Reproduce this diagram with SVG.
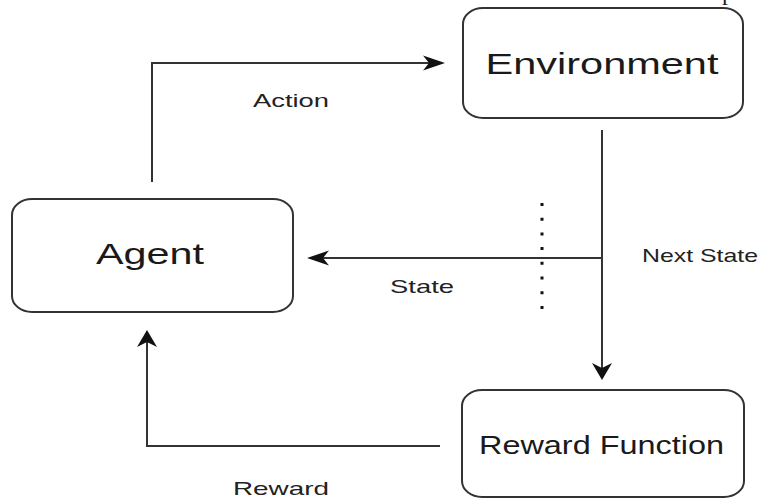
<svg xmlns="http://www.w3.org/2000/svg" width="773" height="500" viewBox="0 0 773 500">
<style>
.box{fill:#fff;stroke:#333;stroke-width:2}
.t{font-family:"Liberation Sans",Arial,sans-serif;fill:#1a1a1a;text-anchor:middle}
.big{font-size:29px}
.lbl{font-size:19px;fill:#222}
.c{fill:none;stroke:#333;stroke-width:2}
.dot{fill:none;stroke:#111;stroke-width:3;stroke-dasharray:3 11.7}
</style>
<defs>
<marker id="ah" markerUnits="userSpaceOnUse" viewBox="0 -10 22 20" markerWidth="22" markerHeight="20" refX="14" refY="0" orient="auto">
<path d="M0,-7.5 L22,0 L0,7.5 L6,0 Z" fill="#111"/>
</marker>
<marker id="av" markerUnits="userSpaceOnUse" viewBox="0 -11 17 22" markerWidth="17" markerHeight="22" refX="9" refY="0" orient="auto">
<path d="M0,-10 L17,0 L0,10 L5,0 Z" fill="#111"/>
</marker>
</defs>
<rect width="773" height="500" fill="#fff"/>
<text x="728" y="0" font-family="Liberation Serif,serif" font-size="24" text-anchor="middle" fill="#222">p</text>
<g id="connectors">
<path class="c" d="M152,182 V63 H437" marker-end="url(#ah)"/>
<path class="c" d="M602,130 V372" marker-end="url(#av)"/>
<path class="c" d="M602,258 H315" marker-end="url(#ah)"/>
<path class="c" d="M440,446 H147 V338" marker-end="url(#av)"/>
<line class="dot" x1="542" y1="203" x2="542" y2="310"/>
<text class="t lbl" x="291" y="107" textLength="76" lengthAdjust="spacingAndGlyphs">Action</text>
<text class="t lbl" x="422" y="293" textLength="64" lengthAdjust="spacingAndGlyphs">State</text>
<text class="t lbl" x="700" y="262" textLength="116" lengthAdjust="spacingAndGlyphs">Next State</text>
<text class="t lbl" x="281" y="495" textLength="96" lengthAdjust="spacingAndGlyphs">Reward</text>
</g>
<g id="environment">
<rect class="box" x="463" y="8" width="280" height="110" rx="20" ry="16"/>
<text class="t big" x="602" y="74" textLength="233" lengthAdjust="spacingAndGlyphs">Environment</text>
</g>
<g id="agent">
<rect class="box" x="12" y="199" width="281" height="113" rx="20" ry="16"/>
<text class="t big" x="150" y="264" textLength="108" lengthAdjust="spacingAndGlyphs">Agent</text>
</g>
<g id="reward-function">
<rect class="box" x="462" y="390" width="282" height="107" rx="20" ry="16"/>
<text class="t" x="601.5" y="454" font-size="25" textLength="245" lengthAdjust="spacingAndGlyphs">Reward Function</text>
</g>
</svg>
